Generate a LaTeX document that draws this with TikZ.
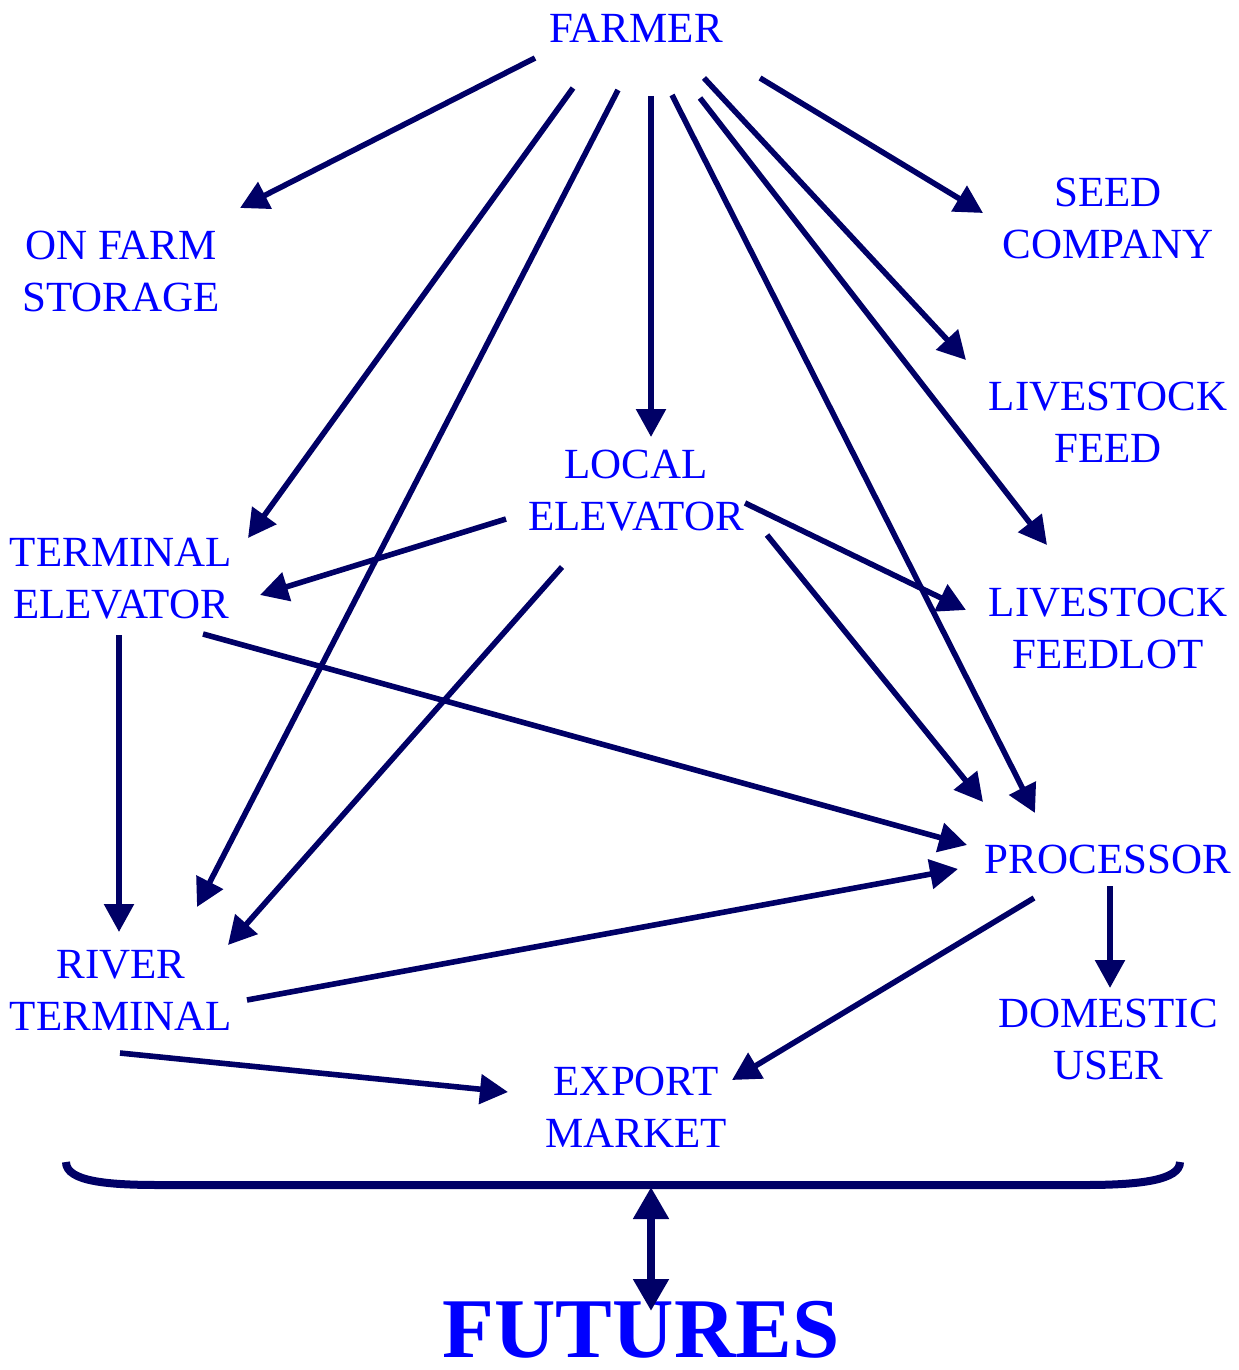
\documentclass[tikz,border=0pt]{standalone}
\usepackage{fontspec}
\setmainfont{Liberation Serif}
\usetikzlibrary{arrows.meta,calc}
\definecolor{txtblue}{RGB}{0,0,255}
\definecolor{navy}{RGB}{0,0,102}
\tikzset{
  lbl/.style={text=txtblue, align=center, inner sep=0pt, font=\fontsize{21.5}{26}\selectfont},
  conn/.style={draw=navy, line width=2.8pt, -{Triangle[length=14pt,width=14.5pt]}, shorten >=0pt},
}
\begin{document}
\begin{tikzpicture}[x=0.5pt,y=-0.5pt]
\useasboundingbox (0,0) rectangle (1238,1370);
\node[lbl] (farmer) at (636,28) {FARMER};
\node[lbl] (onfarm) at (121,271) {ON FARM\\STORAGE};
\node[lbl] (seed) at (1108,218) {SEED\\COMPANY};
\node[lbl] (feed) at (1108,422) {LIVESTOCK\\FEED};
\node[lbl] (local) at (636,491) {LOCAL\\ELEVATOR};
\node[lbl] (terminal) at (121,579) {TERMINAL\\ELEVATOR};
\node[lbl] (feedlot) at (1108,628) {LIVESTOCK\\FEEDLOT};
\node[lbl] (proc) at (1108,859) {PROCESSOR};
\node[lbl] (river) at (121,990) {RIVER\\TERMINAL};
\node[lbl] (domestic) at (1108,1039) {DOMESTIC\\USER};
\node[lbl] (export) at (636,1107) {EXPORT\\MARKET};
\node[text=txtblue, inner sep=0pt, font=\fontsize{42.5}{48}\selectfont\bfseries] (futures) at (641,1330) {FUTURES};

% connectors
\draw[conn] ($(farmer)+(-101,30)$) -- ($(onfarm)+(119,-63)$);
\draw[conn] ($(farmer)+(-63,60)$) -- ($(terminal)+(127,-41)$);
\draw[conn] ($(farmer)+(-18,62)$) -- ($(river)+(76,-83)$);
\draw[conn] ($(farmer)+(15,68)$) -- ($(local)+(15,-54)$);
\draw[conn] ($(farmer)+(36,67)$) -- ($(proc)+(-73,-46)$);
\draw[conn] ($(farmer)+(64,70)$) -- ($(feedlot)+(-61,-83)$);
\draw[conn] ($(farmer)+(68,50)$) -- ($(feed)+(-142,-62)$);
\draw[conn] ($(farmer)+(124,50)$) -- ($(seed)+(-125,-5)$);
\draw[conn] ($(local)+(-130,28)$) -- ($(terminal)+(139,16)$);
\draw[conn] ($(local)+(-74,76)$) -- ($(river)+(107,-45)$);
\draw[conn] ($(local)+(109,12)$) -- ($(feedlot)+(-142,-18)$);
\draw[conn] ($(local)+(131,44)$) -- ($(proc)+(-125,-57)$);
\draw[conn] ($(terminal)+(-2,56)$) -- ($(river)+(-2,-58)$);
\draw[conn] ($(terminal)+(82,55)$) -- ($(proc)+(-141,-14)$);
\draw[conn] ($(river)+(126,10)$) -- ($(proc)+(-150,10)$);
\draw[conn] ($(river)+(-1,63)$) -- ($(export)+(-128,-15)$);
\draw[conn] ($(proc)+(-74,39)$) -- ($(export)+(96,-27)$);
\draw[conn] ($(proc)+(2,27)$) -- ($(domestic)+(2,-51)$);

% brace
\draw[navy, line width=4pt] (66,1162) .. controls (66,1182) and (110,1185) .. (160,1185) -- (1085,1185) .. controls (1140,1185) and (1180,1180) .. (1180,1162);
\coordinate (bracemid) at (651,1187);
\draw[navy, line width=4pt, {Triangle[length=16pt,width=17pt]}-{Triangle[length=16pt,width=17pt]}] (bracemid) -- ($(futures)+(10,-19)$);
\end{tikzpicture}
\end{document}
